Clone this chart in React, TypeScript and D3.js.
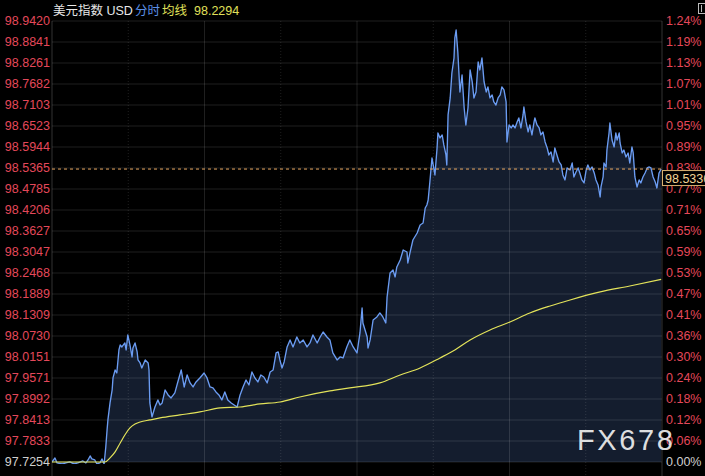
import React from 'react';
import * as d3 from 'd3';

const WIDTH = 705;
const HEIGHT = 476;
const PREV_CLOSE = 97.7254;
const AXIS_MAX = 98.942;
const SESSION_MINUTES = 1440;
const LAST_PRICE = '98.5336';
const AVG_LABEL = '98.2294';

// left axis tick labels (price) and right axis tick labels (change %)
const priceTicks = [
  '98.9420', '98.8841', '98.8261', '98.7682', '98.7103', '98.6523', '98.5944', '98.5365',
  '98.4785', '98.4206', '98.3627', '98.3047', '98.2468', '98.1889', '98.1309', '98.0730',
  '98.0151', '97.9571', '97.8992', '97.8413', '97.7833', '97.7254'
];
const pctTicks = [
  '1.24%', '1.19%', '1.13%', '1.07%', '1.01%', '0.95%', '0.89%', '0.83%',
  '0.77%', '0.71%', '0.65%', '0.59%', '0.53%', '0.47%', '0.41%', '0.36%',
  '0.30%', '0.24%', '0.18%', '0.12%', '0.06%', '0.00%'
];
// vertical grid, minutes from session start
const timeTicks = [0, 180, 360, 540, 720, 900, 1080, 1260, 1440];

// intraday price (分时)
const minutes = [
  0, 7, 12, 24, 33, 42, 52, 61, 73, 80, 85, 90, 94, 101, 106, 113, 118, 123, 127, 130,
  132, 137, 142, 144, 149, 153, 158, 161, 165, 172, 175, 179, 184, 189, 191, 196, 201, 203, 208, 212,
  220, 227, 229, 231, 236, 243, 250, 255, 260, 267, 274, 281, 290, 297, 305, 312, 319, 326, 333, 340,
  349, 359, 366, 373, 380, 387, 394, 401, 408, 415, 423, 430, 437, 444, 451, 458, 465, 472, 479, 486,
  493, 500, 508, 515, 522, 529, 534, 538, 543, 548, 555, 562, 569, 578, 585, 593, 602, 609, 616, 626,
  633, 640, 649, 656, 663, 673, 680, 687, 696, 703, 711, 720, 727, 732, 734, 739, 744, 746, 751, 758,
  767, 774, 781, 788, 791, 798, 805, 810, 814, 822, 829, 838, 840, 845, 852, 862, 869, 876, 881, 885,
  888, 892, 897, 904, 909, 911, 916, 921, 925, 930, 932, 935, 940, 944, 949, 951, 954, 958, 963, 968,
  973, 977, 982, 987, 992, 996, 1001, 1006, 1010, 1015, 1020, 1025, 1029, 1034, 1039, 1043, 1048, 1053, 1058, 1062,
  1067, 1072, 1074, 1079, 1084, 1088, 1093, 1098, 1102, 1107, 1112, 1114, 1119, 1124, 1128, 1133, 1138, 1140, 1145, 1150,
  1154, 1159, 1164, 1169, 1173, 1178, 1183, 1187, 1192, 1197, 1202, 1206, 1211, 1216, 1223, 1228, 1232, 1237, 1242, 1246,
  1251, 1256, 1261, 1265, 1270, 1275, 1280, 1284, 1289, 1294, 1296, 1301, 1303, 1308, 1310, 1315, 1317, 1322, 1327, 1331,
  1334, 1339, 1341, 1346, 1350, 1355, 1360, 1364, 1369, 1372, 1376, 1381, 1386, 1390, 1395, 1400, 1405, 1409, 1414, 1419,
  1424, 1428, 1433, 1438
];
const prices = [
  97.7254, 97.7366, 97.7228, 97.7200, 97.7228, 97.7255, 97.7200, 97.7228, 97.7283, 97.7228, 97.7310, 97.7421, 97.7338, 97.7310, 97.7200, 97.7228, 97.7338, 97.7200, 97.7669, 97.8138,
  97.8414, 97.8883, 97.9241, 97.9573, 97.9793, 97.9710, 98.0345, 98.0483, 98.0428, 98.0538, 98.0345, 98.0759, 98.0483, 98.0152, 98.0400, 98.0538, 98.0290, 98.0069, 97.9986, 97.9848,
  98.0069, 97.9986, 97.9793, 97.8883, 97.8497, 97.8772, 97.8966, 97.8828, 97.8883, 97.9241, 97.9104, 97.9021, 97.9159, 97.9462, 97.9793, 97.9324, 97.9655, 97.9435, 97.9324, 97.9462,
  97.9573, 97.9710, 97.9573, 97.9324, 97.9297, 97.9186, 97.9104, 97.8966, 97.9186, 97.8966, 97.8883, 97.8828, 97.8772, 97.9104, 97.9324, 97.9517, 97.9379, 97.9738, 97.9573, 97.9462,
  97.9655, 97.9600, 97.9435, 97.9738, 97.9793, 98.0262, 98.0290, 98.0069, 97.9848, 98.0014, 98.0428, 98.0621, 98.0428, 98.0703, 98.0538, 98.0621, 98.0428, 98.0538, 98.0759, 98.0538,
  98.0703, 98.0841, 98.0703, 98.0621, 98.0262, 98.0069, 98.0152, 98.0124, 98.0428, 98.0621, 98.0428, 98.0262, 98.0814, 98.1503, 98.1090, 98.0897, 98.0703, 98.0400, 98.0621, 98.1172,
  98.1255, 98.1366, 98.1255, 98.1090, 98.1807, 98.2469, 98.2552, 98.2359, 98.2635, 98.2828, 98.3103, 98.3048, 98.2745, 98.3021, 98.3379, 98.3572, 98.3793, 98.3848, 98.4262, 98.4345,
  98.4483, 98.4979, 98.5641, 98.5172, 98.5917, 98.6331, 98.6193, 98.6276, 98.6000, 98.5724, 98.5448, 98.6828, 98.7297, 98.7986, 98.8400, 98.8952, 98.9172, 98.8566, 98.7462, 98.7931,
  98.7021, 98.6552, 98.7021, 98.8069, 98.7738, 98.7297, 98.7462, 98.8290, 98.8069, 98.8400, 98.7738, 98.7462, 98.7600, 98.7297, 98.7379, 98.7186, 98.7103, 98.7297, 98.7379, 98.7600,
  98.7517, 98.7186, 98.6083, 98.6552, 98.6469, 98.6552, 98.6469, 98.6635, 98.6745, 98.6469, 98.6828, 98.7048, 98.6635, 98.6359, 98.6552, 98.6276, 98.6635, 98.6745, 98.6552, 98.6469,
  98.6276, 98.6359, 98.6083, 98.5917, 98.5724, 98.5807, 98.5531, 98.5917, 98.5724, 98.5531, 98.5448, 98.5172, 98.5035, 98.5366, 98.5310, 98.5503, 98.5117, 98.5255, 98.5366, 98.5228,
  98.5035, 98.4952, 98.5310, 98.5448, 98.5310, 98.5393, 98.5228, 98.5035, 98.4897, 98.4566, 98.4841, 98.5117, 98.5503, 98.5393, 98.5862, 98.6331, 98.6607, 98.6138, 98.5945, 98.6331,
  98.6138, 98.6331, 98.6055, 98.5779, 98.5862, 98.5669, 98.5779, 98.5503, 98.5945, 98.5779, 98.5117, 98.4841, 98.5035, 98.4952, 98.5117, 98.5228, 98.5366, 98.5393, 98.5366, 98.5117,
  98.4979, 98.4814, 98.5228, 98.5336
];

// average price (均线)
const avgMinutes = [
  0, 125, 137, 149, 161, 172, 184, 196, 208, 231, 255, 302, 349, 397, 444, 491, 538,
  585, 656, 703, 774, 822, 869, 916, 951, 987, 1034, 1081, 1128, 1176, 1223, 1294, 1364, 1438
];
const avgPrices = [
  97.7254, 97.7254, 97.7366, 97.7531, 97.7779, 97.8000, 97.8193, 97.8303, 97.8359, 97.8414, 97.8469, 97.8552, 97.8635, 97.8745, 97.8772, 97.8855, 97.8910,
  97.9048, 97.9214, 97.9297, 97.9435, 97.9655, 97.9848, 98.0124, 98.0345, 98.0621, 98.0897, 98.1117, 98.1366, 98.1559, 98.1724, 98.1945, 98.2110, 98.2294
];

const M = { left: 52, right: 662, top: 21, bottom: 462 };
const FONT = 'Arial, "Liberation Sans", "Noto Sans CJK SC", sans-serif';

export default function App() {
  const x = d3.scaleLinear().domain([0, SESSION_MINUTES]).range([M.left, M.right]);
  const y = d3.scaleLinear().domain([PREV_CLOSE, AXIS_MAX]).range([M.bottom, M.top]);

  const pts = minutes.map((t, i) => [t, prices[i]] as [number, number]);
  const avgPts = avgMinutes.map((t, i) => [t, avgPrices[i]] as [number, number]);

  const area = d3.area<[number, number]>()
    .x(d => x(d[0]))
    .y0(M.bottom)
    .y1(d => y(d[1]));
  const line = d3.line<[number, number]>()
    .x(d => x(d[0]))
    .y(d => y(d[1]));
  const avgLine = d3.line<[number, number]>()
    .x(d => x(d[0]))
    .y(d => y(d[1]))
    .curve(d3.curveMonotoneX);

  const lastY = y(+LAST_PRICE);
  const grid = 'rgba(255,255,255,0.12)';

  return (
    <div style={{ position: 'absolute', left: 0, top: 0 }}>
      <svg width={WIDTH} height={HEIGHT} style={{ display: 'block', fontFamily: FONT }}>
        <defs>
          <clipPath id="plot">
            <rect x={M.left} y={M.top - 20} width={M.right - M.left} height={M.bottom - M.top + 22} />
          </clipPath>
        </defs>
        <rect width={WIDTH} height={HEIGHT} fill="#000" />

        {/* area under price */}
        <g clipPath="url(#plot)">
          <path d={area(pts) || ''} fill="#141d2e" />
        </g>

        {/* grid */}
        {priceTicks.map((v, i) => (
          <line key={'h' + i} x1={M.left} x2={M.right} y1={y(+v)} y2={y(+v)} stroke={grid} strokeWidth={1} />
        ))}
        {timeTicks.map((t, i) => (
          <line key={'v' + i} x1={x(t)} x2={x(t)} y1={M.top} y2={M.bottom + 14}
            stroke={i === 0 || i === timeTicks.length - 1 ? 'rgba(255,255,255,0.2)' : grid}
            strokeDasharray={i % 2 === 1 ? '1,2' : undefined} strokeWidth={1} />
        ))}

        {/* lines */}
        <g clipPath="url(#plot)">
          <path d={line(pts) || ''} fill="none" stroke="#6b9cf2" strokeWidth={1.35} strokeLinejoin="round" />
          <path d={avgLine(avgPts) || ''} fill="none" stroke="#e3e35a" strokeWidth={1.2} />
        </g>

        {/* last price dashed line */}
        <line x1={M.left} x2={M.right} y1={lastY} y2={lastY} stroke="#e8a860" strokeWidth={1} strokeDasharray="3,3" />

        {/* left axis labels */}
        {priceTicks.map((v, i) => (
          <text key={'l' + i} x={50} y={y(+v)} textAnchor="end" dominantBaseline="central"
            fontSize={12.5} fill={i === priceTicks.length - 1 ? '#cfcfcf' : '#e4485a'}>{v}</text>
        ))}
        {/* right axis labels */}
        {pctTicks.map((v, i) => (
          <text key={'r' + i} x={666} y={y(+priceTicks[i])} dominantBaseline="central"
            fontSize={12.5} fill={i === pctTicks.length - 1 ? '#cfcfcf' : '#e4485a'}>{v}</text>
        ))}

        {/* last price tag */}
        <rect x={662.5} y={lastY + 1.5} width={60} height={15} fill="#000" stroke="#d8b070" strokeWidth={1} />
        <text x={665} y={lastY + 9.5} dominantBaseline="central" fontSize={12.5} fill="#f3d496">{LAST_PRICE}</text>

        {/* header */}
        <text x={53} y={15} fontSize={12.5} fill="#e8e8e8">美元指数 USD</text>
        <text x={135} y={15} fontSize={12.5} fill="#5b8fe6">分时</text>
        <text x={162} y={15} fontSize={12.5} fill="#e0e05a">均线</text>
        <text x={194} y={15} fontSize={12.5} fill="#e0e05a">{AVG_LABEL}</text>

        {/* corner icon */}
        <rect x={698.5} y={3.5} width={9} height={10} fill="none" stroke="#bbb" strokeWidth={1} />
        <line x1={701.5} x2={701.5} y1={5} y2={12} stroke="#bbb" strokeWidth={1} />

        {/* watermark */}
        <text x={577} y={450} fontSize={29} letterSpacing={2.6} fill="#f2f2f2" fillOpacity={0.92}>FX678</text>
      </svg>
    </div>
  );
}
